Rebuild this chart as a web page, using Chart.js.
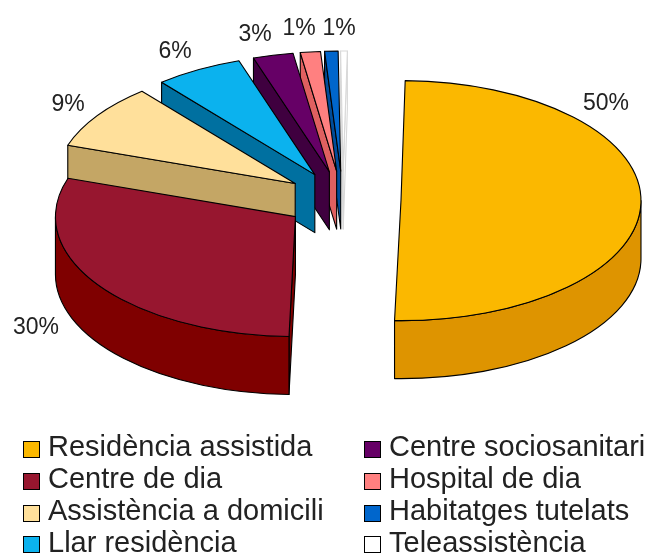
<!DOCTYPE html>
<html>
<head>
<meta charset="utf-8">
<style>html,body{margin:0;padding:0;background:#fff}canvas{display:block}</style>
<script src="https://cdn.jsdelivr.net/npm/chart.js@4/dist/chart.umd.min.js"></script>
</head>
<body>
<canvas id="c" width="650" height="553"></canvas>
<script>
const categories = ["Residència assistida","Centre de dia","Assistència a domicili","Llar residència","Centre sociosanitari","Hospital de dia","Habitatges tutelats","Teleassistència"];
const shares = [50.15, 29.75, 8.8, 5.9, 2.7, 1.35, 0.9, 0.45];
const percentLabels = ["50%","30%","9%","6%","3%","1%","1%",""];
const topColors = ["#FBB800","#97162F","#FFE09B","#0BB2EE","#660066","#FF8080","#0066CC","#FFFFFF"];
const sideColors = ["#DE9400","#7F0000","#C4A665","#0070A0","#3F003F","#E06060","#004C99","#FFFFFF"];
const edgeColors = ["#000","#000","#000","#000","#000","#000","#000","#D8D8D8"];

// style / layout constants
const TILT = 0.5, DEPTH = 58, EXPLODE_PX = 58, RADIUS = 240;
const labelSpots = [[606,104],[36,328],[68,105],[175,52],[255,35],[299,29],[339,29],null];
const legendCols = [23, 364], legendRows = [448.5, 480.5, 512.5, 544];
const FONT = '"Liberation Sans", Arial, sans-serif';

const pie3d = {
  id: 'pie3d',
  beforeDatasetsDraw(chart) {
    const ctx = chart.ctx;
    const arcs = chart.getDatasetMeta(0).data;
    for (let i = arcs.length - 1; i >= 0; i--) {
      const el = arcs[i];
      const {x, y, startAngle: a0, endAngle: a1, outerRadius: r} = el.getProps(['x','y','startAngle','endAngle','outerRadius'], true);
      if (a1 - a0 <= 0) continue;
      const mid = (a0 + a1) / 2;
      const cx = x + Math.cos(mid) * EXPLODE_PX, cy = y + Math.sin(mid) * EXPLODE_PX * TILT;
      const ry = r * TILT;
      ctx.save();
      ctx.strokeStyle = edgeColors[i]; ctx.lineWidth = 1.1; ctx.lineJoin = 'round';
      ctx.fillStyle = sideColors[i];
      // radial cut faces that look toward the viewer
      [[a0, -Math.cos(a0)], [a1, Math.cos(a1)]].forEach(([a, facing]) => {
        if (facing <= 0) return;
        const px = cx + Math.cos(a) * r, py = cy + Math.sin(a) * ry;
        ctx.beginPath(); ctx.moveTo(cx, cy); ctx.lineTo(px, py);
        ctx.lineTo(px, py + DEPTH); ctx.lineTo(cx, cy + DEPTH); ctx.closePath();
        ctx.fill(); ctx.stroke();
      });
      // outer wall, front part only
      const w0 = Math.max(a0, 0), w1 = Math.min(a1, Math.PI);
      if (w1 > w0) {
        ctx.beginPath();
        ctx.ellipse(cx, cy, r, ry, 0, w0, w1);
        ctx.ellipse(cx, cy + DEPTH, r, ry, 0, w1, w0, true);
        ctx.closePath(); ctx.fill(); ctx.stroke();
      }
      // top face, filled by the library's arc element
      ctx.save();
      ctx.translate(cx, cy); ctx.scale(1, TILT); ctx.translate(-x, -y);
      el.draw(ctx);
      ctx.restore();
      ctx.beginPath(); ctx.moveTo(cx, cy);
      ctx.ellipse(cx, cy, r, ry, 0, a0, a1);
      ctx.closePath(); ctx.stroke();
      ctx.restore();
    }
    return false;
  },
  afterDraw(chart) {
    const ctx = chart.ctx;
    ctx.save();
    ctx.fillStyle = '#222';
    ctx.textBaseline = 'middle';
    ctx.textAlign = 'center';
    ctx.font = '23px ' + FONT;
    percentLabels.forEach((t, i) => { if (t) ctx.fillText(t, labelSpots[i][0], labelSpots[i][1]); });
    ctx.textAlign = 'left';
    ctx.font = '29px ' + FONT;
    categories.forEach((t, i) => {
      const col = i < 4 ? 0 : 1, row = i % 4;
      const bx = legendCols[col], by = legendRows[row];
      ctx.fillStyle = topColors[i];
      ctx.strokeStyle = '#000'; ctx.lineWidth = 1;
      ctx.fillRect(Math.round(bx) + .5, Math.round(by - 8) + .5, 16, 16);
      ctx.strokeRect(Math.round(bx) + .5, Math.round(by - 8) + .5, 16, 16);
      ctx.fillStyle = '#222';
      ctx.fillText(t, bx + 25, by - 0.5);
    });
    ctx.restore();
  }
};

new Chart(document.getElementById('c'), {
  type: 'pie',
  data: { labels: categories, datasets: [{ data: shares, backgroundColor: topColors, borderWidth: 0, hoverOffset: 0 }] },
  options: {
    responsive: false, animation: false, rotation: 1, radius: RADIUS,
    layout: { padding: { left: 36, right: 0, top: 0, bottom: 153 } },
    plugins: { legend: { display: false }, tooltip: { enabled: false } },
    events: []
  },
  plugins: [pie3d]
});
</script>
</body>
</html>
